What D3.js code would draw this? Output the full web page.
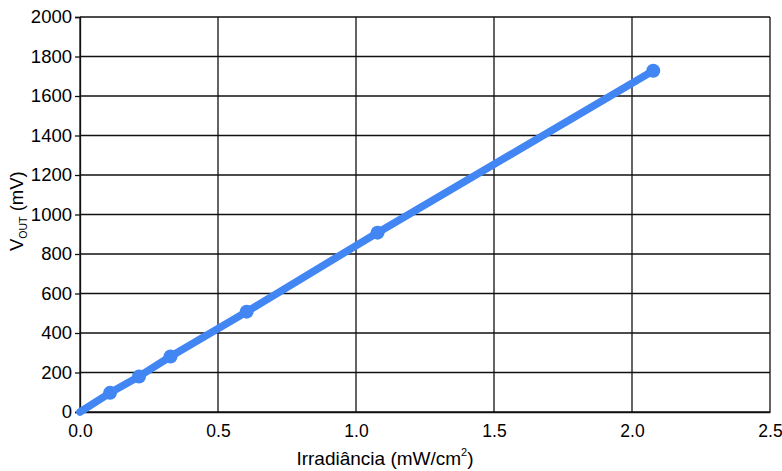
<!DOCTYPE html>
<html>
<head>
<meta charset="utf-8">
<script src="https://cdn.jsdelivr.net/npm/d3@7"></script>
<style>
  html, body { margin: 0; padding: 0; background: #fff; }
  text { font-family: "Liberation Sans", Arial, sans-serif; fill: #000; }
</style>
</head>
<body>
<svg id="chart" width="782" height="471"></svg>
<script>
// Measured output voltage vs. irradiance
const irradiance = [0, 0.109, 0.214, 0.328, 0.604, 1.078, 2.077];
const vout = [0, 97, 180, 281, 508, 908, 1728];
const xTicks = [0, 0.5, 1.0, 1.5, 2.0, 2.5];
const yTicks = [0, 200, 400, 600, 800, 1000, 1200, 1400, 1600, 1800, 2000];

const svg = d3.select("#chart");
const margin = { left: 80, right: 12, top: 17, bottom: 59 };
const W = 782, H = 471;
const iw = W - margin.left - margin.right;
const ih = H - margin.top - margin.bottom;

const x = d3.scaleLinear().domain([0, 2.5]).range([0, iw]);
const y = d3.scaleLinear().domain([0, 2000]).range([ih, 0]);

const g = svg.append("g").attr("transform", `translate(${margin.left},${margin.top})`);

// Grid
g.append("g").selectAll("line").data(yTicks).join("line")
  .attr("x1", 0).attr("x2", iw)
  .attr("y1", d => y(d)).attr("y2", d => y(d))
  .attr("stroke", "#111").attr("stroke-width", 1.3);
g.append("g").selectAll("line").data(xTicks).join("line")
  .attr("y1", 0).attr("y2", ih)
  .attr("x1", d => x(d)).attr("x2", d => x(d))
  .attr("stroke", "#111").attr("stroke-width", 1.3);

// Axes
const xAxis = g.append("g").attr("transform", `translate(0,${ih})`)
  .call(d3.axisBottom(x).tickValues(xTicks).tickFormat(d3.format(".1f")).tickSize(0).tickPadding(13));
xAxis.select(".domain").attr("stroke", "#111").attr("stroke-width", 1.3);
xAxis.selectAll("text").style("font-size", "17.5px").attr("fill", "#000");

const yAxis = g.append("g")
  .call(d3.axisLeft(y).tickValues(yTicks).tickFormat(d3.format("d")).tickSize(5).tickPadding(3));
yAxis.select(".domain").attr("stroke", "#111").attr("stroke-width", 1.3);
yAxis.selectAll(".tick line").attr("stroke", "#111").attr("stroke-width", 1.3);
yAxis.selectAll("text").style("font-size", "18.5px").attr("fill", "#000");

// Series
const pts = irradiance.map((v, i) => [v, vout[i]]);
const color = "#4286f4";
g.append("path").datum(pts)
  .attr("fill", "none").attr("stroke", color).attr("stroke-width", 7.5)
  .attr("stroke-linecap", "round").attr("stroke-linejoin", "round")
  .attr("d", d3.line().x(d => x(d[0])).y(d => y(d[1])));
g.append("g").selectAll("circle").data(pts.filter(d => d[0] > 0)).join("circle")
  .attr("cx", d => x(d[0])).attr("cy", d => y(d[1])).attr("r", 7)
  .attr("fill", color);

// Axis titles
const xt = svg.append("text").attr("x", 385).attr("y", 465)
  .attr("text-anchor", "middle").style("font-size", "19px");
xt.append("tspan").text("Irradiância (mW/cm");
xt.append("tspan").text("2").style("font-size", "11px").attr("dy", -9);
xt.append("tspan").text(")").attr("dy", 9);

const yt = svg.append("text")
  .attr("transform", `translate(23,251) rotate(-90)`)
  .attr("text-anchor", "start").style("font-size", "18.5px");
yt.append("tspan").text("V");
yt.append("tspan").text("OUT").style("font-size", "10.5px").attr("dy", 4);
yt.append("tspan").text(" (mV)").attr("dy", -4);
</script>
</body>
</html>
